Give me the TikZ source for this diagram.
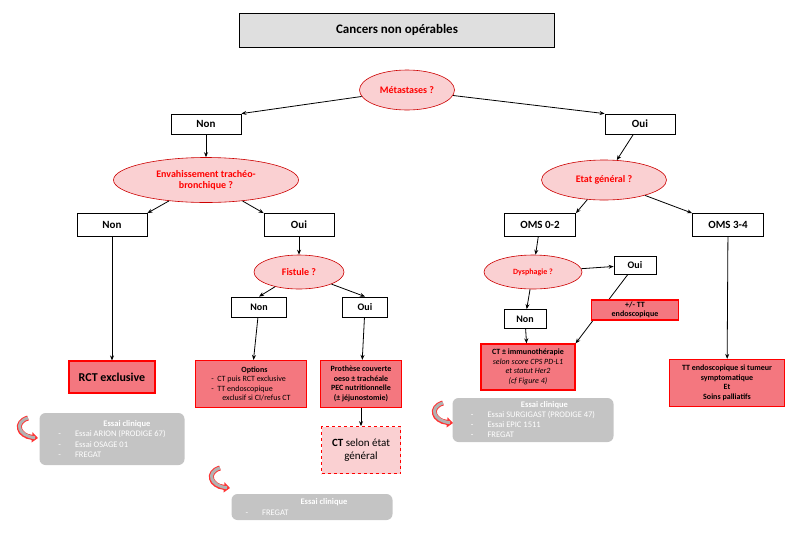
\documentclass[tikz,border=0pt]{standalone}
\usepackage{fontspec}
\setmainfont{Carlito}
\usetikzlibrary{shapes.geometric,arrows.meta}
\definecolor{rf}{HTML}{F4777F}
\definecolor{ef}{HTML}{FAD0D2}
\definecolor{gb}{HTML}{C4C4C4}
\begin{document}
\begin{tikzpicture}[x=1pt,y=-1pt,
 box/.style={draw=black,fill=white,line width=0.8pt,font=\bfseries\fontsize{11}{12}\selectfont,inner sep=0pt},
 ell/.style={ellipse,draw=red!80!black,fill=ef,line width=0.6pt,text=red,font=\bfseries\fontsize{10}{11}\selectfont,align=center,inner sep=0pt},
 rbox/.style={draw=red,fill=rf,line width=1.2pt,font=\bfseries\fontsize{8}{9.5}\selectfont,align=center,inner sep=0pt},
 gbox/.style={fill=gb,rounded corners=6pt,text=white,font=\fontsize{8.5}{10.5}\selectfont,align=left,inner sep=0pt},
 ar/.style={-{Stealth[length=5pt,width=4pt]},line width=0.8pt},
 carrow/.style={line width=5pt,red!80,-{Triangle[length=6pt,width=10pt]}}]
\useasboundingbox (0,0) rectangle (800,539);
\node[box,fill=gray!25,minimum width=315,minimum height=34,font=\bfseries\fontsize{13}{15}\selectfont] (title) at (397,30) {Cancers non opérables};
\node[ell,minimum width=95,minimum height=40] (meta) at (407,90) {Métastases ?};
\node[box,minimum width=70,minimum height=20] (non1) at (206,124) {Non};
\node[box,minimum width=70,minimum height=20] (oui1) at (640,124) {Oui};
\node[ell,minimum width=185,minimum height=45] (env) at (206,180) {Envahissement trachéo-\\bronchique ?};
\node[ell,minimum width=125,minimum height=40] (etat) at (604,180) {Etat général ?};
\node[box,minimum width=70,minimum height=23] (non2) at (112,225) {Non};
\node[box,minimum width=70,minimum height=23] (oui2) at (299,225) {Oui};
\node[box,minimum width=71,minimum height=23] (oms1) at (540,225) {OMS 0-2};
\node[box,minimum width=71,minimum height=23] (oms2) at (728,225) {OMS 3-4};
\node[ell,minimum width=90,minimum height=34] (fist) at (299,272) {Fistule ?};
\node[box,minimum width=55,minimum height=20,font=\bfseries\fontsize{10}{11}\selectfont] (non3) at (259,307) {Non};
\node[box,minimum width=45,minimum height=20,font=\bfseries\fontsize{10}{11}\selectfont] (oui3) at (365,307) {Oui};
\node[ell,minimum width=98,minimum height=34,font=\bfseries\fontsize{8}{9}\selectfont] (dys) at (533,272) {Dysphagie ?};
\node[box,minimum width=42,minimum height=18,font=\bfseries\fontsize{10}{11}\selectfont] (oui4) at (635,265) {Oui};
\node[box,minimum width=42,minimum height=19,font=\bfseries\fontsize{10}{11}\selectfont] (non4) at (525,319) {Non};
\node[rbox,minimum width=94,minimum height=46] (ct) at (528,367) {CT ± immunothérapie\\\mdseries\itshape selon score CPS PD-L1\\\mdseries\itshape et statut Her2\\\mdseries\itshape (cf Figure 4)};
\draw[ar] (oui4) -- (ct.north east);
\node[rbox,minimum width=87,minimum height=20] (tt) at (635,310) {+/- TT\\endoscopique};
\node[rbox,minimum width=115,minimum height=47] (ttend) at (727,383) {TT endoscopique si tumeur\\symptomatique\\Et\\Soins palliatifs};
\node[rbox,minimum width=86,minimum height=32,font=\bfseries\fontsize{12}{14}\selectfont] (rct) at (112,377) {RCT exclusive};
\node[rbox,minimum width=111,minimum height=47,align=left] (opt) at (251,384) {\hspace*{30pt}Options\\\mdseries - \ CT puis RCT exclusive\\\mdseries - \ TT endoscopique\\\mdseries\hspace*{11pt}exclusif si CI/refus CT};
\node[rbox,minimum width=81,minimum height=47] (pro) at (361,384) {Prothèse couverte\\oeso ± trachéale\\PEC nutritionnelle\\(± jéjunostomie)};
\node[draw=red,dashed,fill=ef,line width=0.7pt,minimum width=79,minimum height=47,align=center,inner sep=0pt,font=\fontsize{11}{13}\selectfont] (ctse) at (361,450) {\textbf{CT} selon état\\général};
\node[gbox,minimum width=145,minimum height=52] (e1) at (112,439) {\hspace*{45pt}\textbf{Essai clinique}\\-\hspace*{14pt}Essai ARION (PRODIGE 67)\\-\hspace*{14pt}Essai OSAGE 01\\-\hspace*{14pt}FREGAT};
\node[gbox,minimum width=161,minimum height=26] (e2) at (312,507) {\hspace*{55pt}\textbf{Essai clinique}\\-\hspace*{14pt}FREGAT\hspace*{90pt}};
\node[gbox,minimum width=161,minimum height=44,font=\fontsize{8.5}{10}\selectfont] (e3) at (533,420) {\hspace*{50pt}\textbf{Essai clinique}\\-\hspace*{14pt}Essai SURGIGAST (PRODIGE 47)\\-\hspace*{14pt}Essai EPIC 1511\\-\hspace*{14pt}FREGAT};
\draw[ar] (meta) -- (non1.north east);
\draw[ar] (meta) -- (oui1.north west);
\draw[ar] (non1) -- (env);
\draw[ar] (oui1) -- (etat);
\draw[ar] (env) -- (non2.north east);
\draw[ar] (env) -- (oui2.north west);
\draw[ar] (etat) -- (oms1.north east);
\draw[ar] (etat) -- (oms2.north west);
\draw[ar] (oui2) -- (fist);
\draw[ar] (fist) -- (non3.north);
\draw[ar] (fist) -- (oui3.north);
\draw[ar] (oms1) -- (dys);
\draw[ar] (dys) -- (oui4);
\draw[ar] (dys) -- (non4);
\draw[ar] (non4) -- (ct);
\draw[ar] (oms2) -- (ttend);
\draw[ar] (non2) -- (rct);
\draw[ar] (non3) -- (opt);
\draw[ar] (oui3) -- (pro);
\draw[ar] (pro) -- (ctse);
\foreach \n/\x/\y in {c1/28/418, c2/220/468, c3/443/403}{
 \coordinate (\n s) at (\x,\y);
 \coordinate (\n e) at (\x+10,\y+20);
 \draw[carrow] (\n s) .. controls (\x-14,\y+4) and (\x-10,\y+18) .. (\n e);
 \draw[line width=3pt,gray!60,shorten >=3pt] (\n s) .. controls (\x-14,\y+4) and (\x-10,\y+18) .. (\n e);
}
\end{tikzpicture}
\end{document}
